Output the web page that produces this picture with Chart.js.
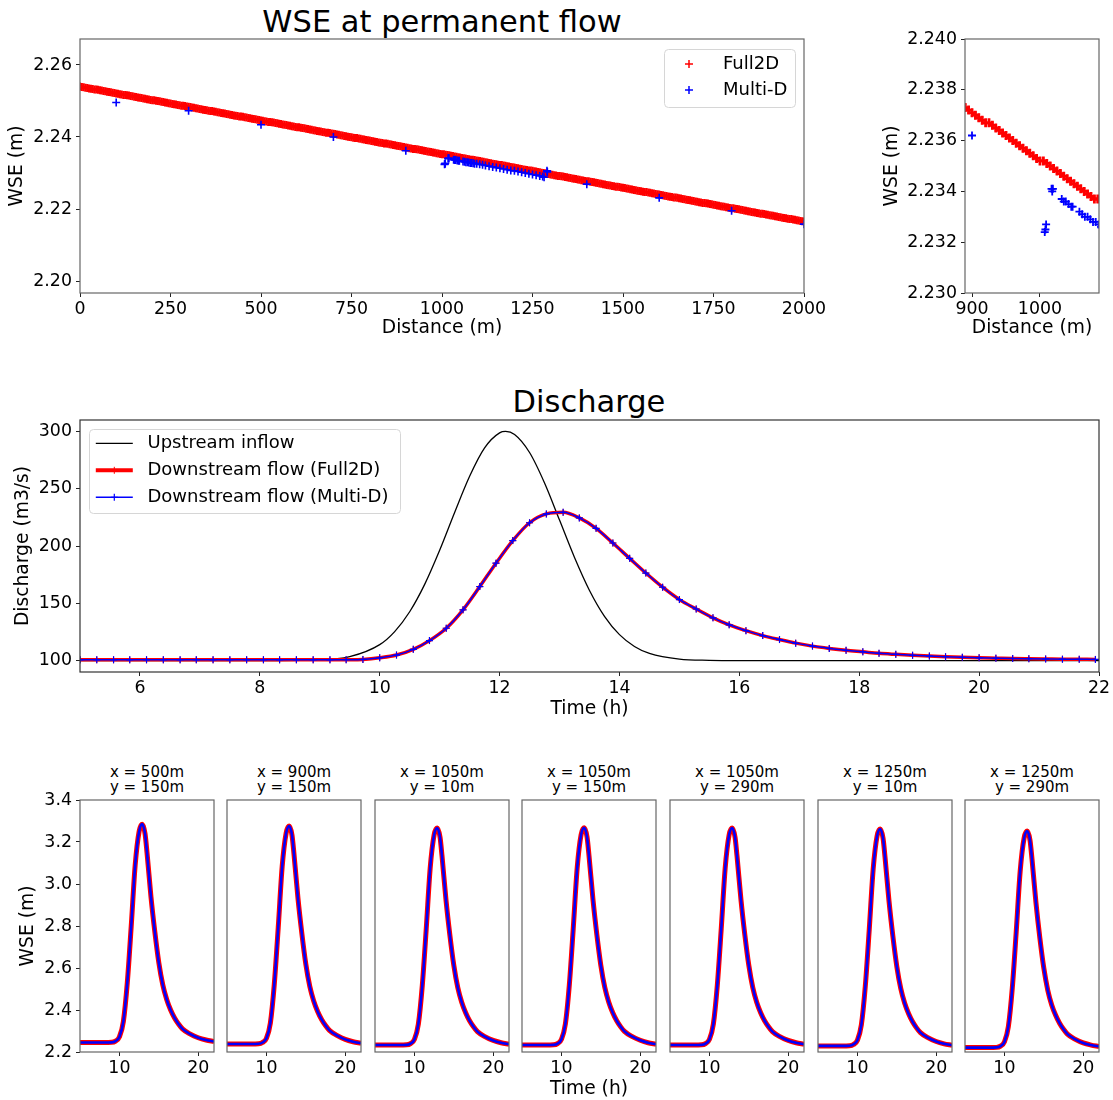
<!DOCTYPE html>
<html>
<head>
<meta charset="utf-8">
<script src="https://cdn.jsdelivr.net/npm/chart.js@4.4.0/dist/chart.umd.min.js"></script>
<style>
  html, body { margin: 0; padding: 0; background: #fff; }
  body { width: 1113px; height: 1100px; position: relative; overflow: hidden; font-family: "DejaVu Sans", sans-serif; }
  canvas { position: absolute; }
  .titulo { position: absolute; transform: translate(-50%, -50%); white-space: nowrap; color: #000; line-height: 1; font-size: 30.5px; }
  .sub { position: absolute; transform: translateX(-50%); text-align: center; font-size: 15px; line-height: 15.6px; white-space: nowrap; color: #000; }
</style>
</head>
<body>
<div class="titulo" style="left:442px; top:22px;">WSE at permanent flow</div>
<div class="titulo" style="left:589px; top:402px;">Discharge</div>

<script>
// ---------------- DADOS ----------------

// perfil de WSE em regime permanente (Full2D, bem denso)
var distFull2D = [
  0, 5, 10, 15, 20, 25, 30, 35, 40, 45, 50, 55, 60, 65, 70, 75,
  80, 85, 90, 95, 100, 105, 110, 115, 120, 125, 130, 135, 140, 145, 150, 155,
  160, 165, 170, 175, 180, 185, 190, 195, 200, 205, 210, 215, 220, 225, 230, 235,
  240, 245, 250, 255, 260, 265, 270, 275, 280, 285, 290, 295, 300, 305, 310, 315,
  320, 325, 330, 335, 340, 345, 350, 355, 360, 365, 370, 375, 380, 385, 390, 395,
  400, 405, 410, 415, 420, 425, 430, 435, 440, 445, 450, 455, 460, 465, 470, 475,
  480, 485, 490, 495, 500, 505, 510, 515, 520, 525, 530, 535, 540, 545, 550, 555,
  560, 565, 570, 575, 580, 585, 590, 595, 600, 605, 610, 615, 620, 625, 630, 635,
  640, 645, 650, 655, 660, 665, 670, 675, 680, 685, 690, 695, 700, 705, 710, 715,
  720, 725, 730, 735, 740, 745, 750, 755, 760, 765, 770, 775, 780, 785, 790, 795,
  800, 805, 810, 815, 820, 825, 830, 835, 840, 845, 850, 855, 860, 865, 870, 875,
  880, 885, 890, 895, 900, 905, 910, 915, 920, 925, 930, 935, 940, 945, 950, 955,
  960, 965, 970, 975, 980, 985, 990, 995, 1000, 1005, 1010, 1015, 1020, 1025, 1030, 1035,
  1040, 1045, 1050, 1055, 1060, 1065, 1070, 1075, 1080, 1085, 1090, 1095, 1100, 1105, 1110, 1115,
  1120, 1125, 1130, 1135, 1140, 1145, 1150, 1155, 1160, 1165, 1170, 1175, 1180, 1185, 1190, 1195,
  1200, 1205, 1210, 1215, 1220, 1225, 1230, 1235, 1240, 1245, 1250, 1255, 1260, 1265, 1270, 1275,
  1280, 1285, 1290, 1295, 1300, 1305, 1310, 1315, 1320, 1325, 1330, 1335, 1340, 1345, 1350, 1355,
  1360, 1365, 1370, 1375, 1380, 1385, 1390, 1395, 1400, 1405, 1410, 1415, 1420, 1425, 1430, 1435,
  1440, 1445, 1450, 1455, 1460, 1465, 1470, 1475, 1480, 1485, 1490, 1495, 1500, 1505, 1510, 1515,
  1520, 1525, 1530, 1535, 1540, 1545, 1550, 1555, 1560, 1565, 1570, 1575, 1580, 1585, 1590, 1595,
  1600, 1605, 1610, 1615, 1620, 1625, 1630, 1635, 1640, 1645, 1650, 1655, 1660, 1665, 1670, 1675,
  1680, 1685, 1690, 1695, 1700, 1705, 1710, 1715, 1720, 1725, 1730, 1735, 1740, 1745, 1750, 1755,
  1760, 1765, 1770, 1775, 1780, 1785, 1790, 1795, 1800, 1805, 1810, 1815, 1820, 1825, 1830, 1835,
  1840, 1845, 1850, 1855, 1860, 1865, 1870, 1875, 1880, 1885, 1890, 1895, 1900, 1905, 1910, 1915,
  1920, 1925, 1930, 1935, 1940, 1945, 1950, 1955, 1960, 1965, 1970, 1975, 1980, 1985, 1990, 1995,
  2000
];
var wseFull2D = [
  2.2540, 2.2539, 2.2538, 2.2537, 2.2536, 2.2535, 2.2534, 2.2533, 2.2532, 2.2532, 2.2531, 2.2530, 2.2529, 2.2528, 2.2527, 2.2526,
  2.2525, 2.2524, 2.2523, 2.2522, 2.2521, 2.2520, 2.2519, 2.2518, 2.2517, 2.2517, 2.2516, 2.2515, 2.2514, 2.2513, 2.2512, 2.2511,
  2.2510, 2.2509, 2.2508, 2.2507, 2.2506, 2.2505, 2.2504, 2.2503, 2.2502, 2.2502, 2.2501, 2.2500, 2.2499, 2.2498, 2.2497, 2.2496,
  2.2495, 2.2494, 2.2493, 2.2492, 2.2491, 2.2490, 2.2489, 2.2488, 2.2487, 2.2487, 2.2486, 2.2485, 2.2484, 2.2483, 2.2482, 2.2481,
  2.2480, 2.2479, 2.2478, 2.2477, 2.2476, 2.2475, 2.2474, 2.2473, 2.2472, 2.2472, 2.2471, 2.2470, 2.2469, 2.2468, 2.2467, 2.2466,
  2.2465, 2.2464, 2.2463, 2.2462, 2.2461, 2.2460, 2.2459, 2.2458, 2.2457, 2.2457, 2.2456, 2.2455, 2.2454, 2.2453, 2.2452, 2.2451,
  2.2450, 2.2449, 2.2448, 2.2447, 2.2446, 2.2445, 2.2444, 2.2443, 2.2442, 2.2442, 2.2441, 2.2440, 2.2439, 2.2438, 2.2437, 2.2436,
  2.2435, 2.2434, 2.2433, 2.2432, 2.2431, 2.2430, 2.2429, 2.2428, 2.2427, 2.2427, 2.2426, 2.2425, 2.2424, 2.2423, 2.2422, 2.2421,
  2.2420, 2.2419, 2.2418, 2.2417, 2.2416, 2.2415, 2.2414, 2.2413, 2.2412, 2.2412, 2.2411, 2.2410, 2.2409, 2.2408, 2.2407, 2.2406,
  2.2405, 2.2404, 2.2403, 2.2402, 2.2401, 2.2400, 2.2399, 2.2398, 2.2397, 2.2397, 2.2396, 2.2395, 2.2394, 2.2393, 2.2392, 2.2391,
  2.2390, 2.2389, 2.2388, 2.2387, 2.2386, 2.2385, 2.2384, 2.2383, 2.2382, 2.2382, 2.2381, 2.2380, 2.2379, 2.2378, 2.2377, 2.2376,
  2.2375, 2.2374, 2.2373, 2.2372, 2.2371, 2.2370, 2.2369, 2.2368, 2.2367, 2.2367, 2.2366, 2.2365, 2.2364, 2.2363, 2.2362, 2.2361,
  2.2360, 2.2359, 2.2358, 2.2357, 2.2356, 2.2355, 2.2354, 2.2353, 2.2352, 2.2352, 2.2351, 2.2350, 2.2349, 2.2348, 2.2347, 2.2346,
  2.2345, 2.2344, 2.2343, 2.2342, 2.2341, 2.2340, 2.2339, 2.2338, 2.2337, 2.2337, 2.2336, 2.2335, 2.2334, 2.2333, 2.2332, 2.2331,
  2.2330, 2.2329, 2.2328, 2.2327, 2.2326, 2.2325, 2.2324, 2.2323, 2.2322, 2.2322, 2.2321, 2.2320, 2.2319, 2.2318, 2.2317, 2.2316,
  2.2315, 2.2314, 2.2313, 2.2312, 2.2311, 2.2310, 2.2309, 2.2308, 2.2307, 2.2307, 2.2306, 2.2305, 2.2304, 2.2303, 2.2302, 2.2301,
  2.2300, 2.2299, 2.2298, 2.2297, 2.2296, 2.2295, 2.2294, 2.2293, 2.2292, 2.2292, 2.2291, 2.2290, 2.2289, 2.2288, 2.2287, 2.2286,
  2.2285, 2.2284, 2.2283, 2.2282, 2.2281, 2.2280, 2.2279, 2.2278, 2.2277, 2.2277, 2.2276, 2.2275, 2.2274, 2.2273, 2.2272, 2.2271,
  2.2270, 2.2269, 2.2268, 2.2267, 2.2266, 2.2265, 2.2264, 2.2263, 2.2262, 2.2262, 2.2261, 2.2260, 2.2259, 2.2258, 2.2257, 2.2256,
  2.2255, 2.2254, 2.2253, 2.2252, 2.2251, 2.2250, 2.2249, 2.2248, 2.2247, 2.2247, 2.2246, 2.2245, 2.2244, 2.2243, 2.2242, 2.2241,
  2.2240, 2.2239, 2.2238, 2.2237, 2.2236, 2.2235, 2.2234, 2.2233, 2.2232, 2.2232, 2.2231, 2.2230, 2.2229, 2.2228, 2.2227, 2.2226,
  2.2225, 2.2224, 2.2223, 2.2222, 2.2221, 2.2220, 2.2219, 2.2218, 2.2217, 2.2217, 2.2216, 2.2215, 2.2214, 2.2213, 2.2212, 2.2211,
  2.2210, 2.2209, 2.2208, 2.2207, 2.2206, 2.2205, 2.2204, 2.2203, 2.2202, 2.2202, 2.2201, 2.2200, 2.2199, 2.2198, 2.2197, 2.2196,
  2.2195, 2.2194, 2.2193, 2.2192, 2.2191, 2.2190, 2.2189, 2.2188, 2.2187, 2.2187, 2.2186, 2.2185, 2.2184, 2.2183, 2.2182, 2.2181,
  2.2180, 2.2179, 2.2178, 2.2177, 2.2176, 2.2175, 2.2174, 2.2173, 2.2172, 2.2172, 2.2171, 2.2170, 2.2169, 2.2168, 2.2167, 2.2166,
  2.2165
];

// perfil Multi-D
var distMultiD = [100, 300, 500, 700, 900, 1007, 1008, 1009, 1017, 1018, 1019,
  1032, 1035, 1038, 1042, 1046, 1048, 1058, 1062, 1066, 1070, 1074, 1078, 1082, 1086, 1090,
  1096, 1104, 1112, 1120, 1130, 1140, 1150, 1160, 1170, 1180, 1190, 1200, 1210, 1220,
  1230, 1240, 1250, 1260, 1270, 1278, 1282, 1290, 1291, 1400, 1600, 1800, 2000];
var wseMultiD = [2.2496, 2.2473, 2.2434, 2.2400, 2.2362, 2.2324, 2.2325, 2.2327, 2.2341, 2.2340, 2.2341,
  2.2337, 2.2336, 2.2336, 2.2335, 2.2334, 2.2334, 2.2332, 2.2331, 2.2330, 2.2330, 2.2329, 2.2328, 2.2328, 2.2327, 2.2326,
  2.2326, 2.2324, 2.2323, 2.2321, 2.2319, 2.2317, 2.2315, 2.2313, 2.2311, 2.2309, 2.2307, 2.2306, 2.2304, 2.2302,
  2.2300, 2.2298, 2.2296, 2.2294, 2.2292, 2.2290, 2.2288, 2.2306, 2.2303, 2.2269, 2.2231, 2.2195, 2.2158];

// hidrograma de entrada (montante)
var tempoEntrada = [5, 8, 9, 9.5, 10, 10.25, 10.5, 10.75, 11, 11.25, 11.5, 11.75, 12, 12.1,
  12.25, 12.5, 12.75, 13, 13.25, 13.5, 13.75, 14, 14.25, 14.5, 15, 15.5, 16, 22];
var vazaoEntrada = [100, 100, 100.6, 103.4, 113.9, 125.3, 142.6, 166.5, 196.3, 229.3, 260.9, 285.7, 298.8, 300,
  297.3, 281.6, 255.0, 222.6, 190.0, 161.2, 138.6, 122.6, 112.3, 106.2, 101.2, 100.2, 100, 100];

// hidrograma de saida (jusante)
var tempoSaida = [5.00, 5.28, 5.56, 5.83, 6.11, 6.39, 6.67, 6.94, 7.22, 7.50, 7.78, 8.06, 8.33, 8.61, 8.89, 9.17,
  9.44, 9.72, 10.00, 10.28, 10.56, 10.83, 11.11, 11.39, 11.67, 11.94, 12.22, 12.50, 12.78, 13.06, 13.33, 13.61,
  13.89, 14.17, 14.44, 14.72, 15.00, 15.28, 15.56, 15.83, 16.11, 16.39, 16.67, 16.94, 17.22, 17.50, 17.78, 18.06,
  18.33, 18.61, 18.89, 19.17, 19.44, 19.72, 20.00, 20.28, 20.56, 20.83, 21.11, 21.39, 21.67, 21.94];
var vazaoFull2D = [100.6, 100.6, 100.6, 100.6, 100.6, 100.6, 100.6, 100.6, 100.6, 100.6, 100.6, 100.6, 100.6, 100.6, 100.6, 100.6,
  100.7, 101.0, 102.4, 104.8, 109.8, 117.4, 128.2, 144.3, 164.6, 185.0, 204.7, 220.3, 228.0, 229.4, 224.5, 215.4,
  202.6, 189.2, 176.4, 164.0, 153.2, 145.0, 137.3, 131.2, 126.1, 121.8, 118.3, 115.2, 112.6, 110.6, 108.9, 107.6,
  106.3, 105.4, 104.6, 103.9, 103.3, 102.8, 102.4, 102.1, 101.8, 101.6, 101.4, 101.2, 101.1, 101.0];
var vazaoMultiD = vazaoFull2D.slice(); // as duas curvas coincidem na escala do grafico

// WSE no tempo em 7 pontos
var pontosX = ['500', '900', '1050', '1050', '1050', '1250', '1250'];
var pontosY = ['150', '150', '10', '150', '290', '10', '290'];
var tempoPontos = [5, 8, 9, 9.5, 10, 10.5, 11, 11.5, 12, 12.5, 12.9, 13.25, 13.5, 14, 14.5, 15, 15.5, 16, 16.5, 17, 17.5, 18, 19, 20, 21, 22];
var wsePonto1 = [2.245, 2.245, 2.246, 2.252, 2.272, 2.345, 2.530, 2.800, 3.090, 3.250, 3.285, 3.240, 3.150, 2.940, 2.770, 2.625, 2.520, 2.450, 2.400, 2.362, 2.333, 2.310, 2.285, 2.268, 2.257, 2.250];
var wsePonto2 = [2.238, 2.238, 2.239, 2.245, 2.265, 2.338, 2.523, 2.793, 3.083, 3.242, 3.276, 3.232, 3.142, 2.933, 2.763, 2.618, 2.513, 2.443, 2.393, 2.355, 2.326, 2.303, 2.278, 2.260, 2.249, 2.242];
var wsePonto3 = [2.233, 2.233, 2.234, 2.240, 2.260, 2.333, 2.517, 2.786, 3.075, 3.234, 3.267, 3.223, 3.134, 2.926, 2.756, 2.612, 2.507, 2.437, 2.387, 2.349, 2.320, 2.297, 2.272, 2.255, 2.244, 2.237];
var wsePonto4 = [2.233, 2.233, 2.234, 2.240, 2.260, 2.333, 2.518, 2.787, 3.076, 3.235, 3.268, 3.224, 3.135, 2.927, 2.757, 2.613, 2.508, 2.438, 2.388, 2.350, 2.321, 2.298, 2.273, 2.256, 2.244, 2.237];
var wsePonto5 = [2.233, 2.233, 2.234, 2.240, 2.260, 2.333, 2.517, 2.786, 3.075, 3.234, 3.267, 3.223, 3.134, 2.926, 2.756, 2.612, 2.507, 2.437, 2.387, 2.349, 2.320, 2.297, 2.272, 2.255, 2.244, 2.237];
var wsePonto6 = [2.229, 2.229, 2.230, 2.236, 2.256, 2.329, 2.513, 2.782, 3.071, 3.229, 3.262, 3.218, 3.129, 2.921, 2.751, 2.607, 2.502, 2.432, 2.382, 2.344, 2.315, 2.292, 2.267, 2.250, 2.239, 2.232];
var wsePonto7 = [2.221, 2.221, 2.222, 2.228, 2.248, 2.321, 2.505, 2.773, 3.061, 3.219, 3.252, 3.208, 3.119, 2.912, 2.742, 2.599, 2.494, 2.424, 2.375, 2.337, 2.308, 2.285, 2.260, 2.243, 2.233, 2.226];
var wsePontos = [wsePonto1, wsePonto2, wsePonto3, wsePonto4, wsePonto5, wsePonto6, wsePonto7];

// ticks
var perfilTicksX = [0, 250, 500, 750, 1000, 1250, 1500, 1750, 2000];
var perfilTicksY = [2.20, 2.22, 2.24, 2.26];
var zoomTicksX = [900, 1000];
var zoomTicksY = [2.230, 2.232, 2.234, 2.236, 2.238, 2.240];
var vazaoTicksX = [6, 8, 10, 12, 14, 16, 18, 20, 22];
var vazaoTicksY = [100, 150, 200, 250, 300];
var pontoTicksX = [10, 20];
var pontoTicksY = [2.2, 2.4, 2.6, 2.8, 3.0, 3.2, 3.4];

// ---------------- GRAFICOS ----------------

Chart.defaults.font.family = '"DejaVu Sans", sans-serif';
Chart.defaults.font.size = 17;
Chart.defaults.color = '#000';

var TAM_TICK = 17.4;
var TAM_TITULO = 18.7;

function pares(xs, ys) {
  return xs.map(function (x, i) { return { x: x, y: ys[i] }; });
}

// moldura em volta da area do grafico
var moldura = {
  id: 'moldura',
  afterDatasetsDraw: function (chart, args, o) {
    var a = chart.chartArea, ctx = chart.ctx;
    ctx.save();
    ctx.strokeStyle = (o && o.cor) || '#555';
    ctx.lineWidth = 1.2;
    ctx.strokeRect(a.left, a.top, a.right - a.left, a.bottom - a.top);
    ctx.restore();
  }
};

function caminhoArredondado(ctx, x, y, w, h, r) {
  ctx.beginPath();
  ctx.moveTo(x + r, y);
  ctx.lineTo(x + w - r, y);
  ctx.arcTo(x + w, y, x + w, y + r, r);
  ctx.lineTo(x + w, y + h - r);
  ctx.arcTo(x + w, y + h, x + w - r, y + h, r);
  ctx.lineTo(x + r, y + h);
  ctx.arcTo(x, y + h, x, y + h - r, r);
  ctx.lineTo(x, y + r);
  ctx.arcTo(x, y, x + r, y, r);
  ctx.closePath();
}

// legenda desenhada dentro da area (estilo matplotlib)
var legendaInterna = {
  id: 'legendaInterna',
  afterDraw: function (chart, args, o) {
    if (!o || !o.itens) return;
    var ctx = chart.ctx, a = chart.chartArea;
    var x = a.left + o.x, y = a.top + o.y;
    ctx.save();
    caminhoArredondado(ctx, x + 0.5, y + 0.5, o.w, o.h, 4);
    ctx.fillStyle = 'rgba(255,255,255,0.85)';
    ctx.fill();
    ctx.strokeStyle = '#d6d6d6';
    ctx.lineWidth = 1;
    ctx.stroke();
    ctx.font = '18px "DejaVu Sans", sans-serif';
    ctx.textBaseline = 'middle';
    ctx.textAlign = 'left';
    for (var i = 0; i < o.itens.length; i++) {
      var it = o.itens[i];
      var cy = y + o.linha0 + i * o.passo;
      var sx = x + o.simbolo;
      ctx.strokeStyle = it.cor;
      if (it.linha) {
        ctx.lineWidth = it.linha;
        ctx.beginPath();
        ctx.moveTo(sx - o.larg / 2, cy);
        ctx.lineTo(sx + o.larg / 2, cy);
        ctx.stroke();
      }
      if (it.cruz) {
        ctx.lineWidth = it.espessura;
        ctx.beginPath();
        ctx.moveTo(sx - it.cruz, cy); ctx.lineTo(sx + it.cruz, cy);
        ctx.moveTo(sx, cy - it.cruz); ctx.lineTo(sx, cy + it.cruz);
        ctx.stroke();
      }
      ctx.fillStyle = '#000';
      ctx.fillText(it.texto, x + o.texto, cy);
    }
    ctx.restore();
  }
};

function eixo(cfg) {
  var mostrar = cfg.mostrar !== false;
  return {
    type: 'linear',
    min: cfg.min,
    max: cfg.max,
    afterBuildTicks: function (s) {
      s.ticks = cfg.ticks.map(function (v) { return { value: v }; });
    },
    afterFit: function (s) {
      if (cfg.lado === 'y') s.width = cfg.tamanho; else s.height = cfg.tamanho;
    },
    ticks: {
      display: mostrar, autoSkip: false, maxRotation: 0, minRotation: 0,
      padding: cfg.padTick, color: '#000', font: { size: TAM_TICK },
      callback: function (v) { return Number(v).toFixed(cfg.casas); }
    },
    grid: { display: mostrar, drawOnChartArea: false, drawTicks: true, tickLength: 4, tickColor: '#222', tickWidth: 1 },
    border: { display: false },
    title: { display: !!cfg.titulo, text: cfg.titulo || '', color: '#000', font: { size: TAM_TITULO }, padding: cfg.padTitulo || 0 }
  };
}

function criarGrafico(id, caixa, area, datasets, cx, cy, legenda, corMoldura) {
  var canvas = document.createElement('canvas');
  canvas.id = id;
  canvas.width = caixa.r - caixa.l;
  canvas.height = caixa.b - caixa.t;
  canvas.style.left = caixa.l + 'px';
  canvas.style.top = caixa.t + 'px';
  document.body.appendChild(canvas);
  cx.lado = 'x'; cx.tamanho = caixa.b - area.b;
  cy.lado = 'y'; cy.tamanho = area.l - caixa.l;
  return new Chart(canvas, {
    type: 'scatter',
    data: { datasets: datasets },
    options: {
      responsive: false,
      animation: false,
      devicePixelRatio: 1,
      events: [],
      layout: { padding: { left: 0, bottom: 0, top: area.t - caixa.t, right: caixa.r - area.r } },
      scales: { x: eixo(cx), y: eixo(cy) },
      plugins: {
        legend: { display: false },
        tooltip: { enabled: false },
        moldura: { cor: corMoldura || '#555' },
        legendaInterna: legenda || {}
      }
    },
    plugins: [moldura, legendaInterna]
  });
}

function serieCruz(xs, ys, cor, ordem, raio, espessura) {
  return {
    data: pares(xs, ys), order: ordem, clip: 0,
    pointStyle: 'cross', pointRadius: raio, pointBorderWidth: espessura,
    pointBorderColor: cor, pointBackgroundColor: cor, borderColor: cor
  };
}

var legendaPerfil = {
  x: 584, y: 10, w: 131, h: 58, linha0: 15, passo: 26, simbolo: 25, larg: 0, texto: 59,
  itens: [
    { texto: 'Full2D', cor: '#ff0000', cruz: 4, espessura: 1.5 },
    { texto: 'Multi-D', cor: '#0000ff', cruz: 4, espessura: 1.5 }
  ]
};

// Grafico 1: perfil completo
criarGrafico('graficoPerfil',
  { l: 0, t: 10, r: 840, b: 350 }, { l: 80, t: 39, r: 804, b: 293 },
  [serieCruz(distFull2D, wseFull2D, '#ff0000', 1, 4, 2.2), serieCruz(distMultiD, wseMultiD, '#0000ff', 0, 4, 1.6)],
  { min: 0, max: 2000, ticks: perfilTicksX, casas: 0, padTick: 2, titulo: 'Distance (m)', padTitulo: { top: 0, bottom: 10.5 } },
  { min: 2.19667, max: 2.26722, ticks: perfilTicksY, casas: 2, padTick: 4, titulo: 'WSE (m)', padTitulo: { top: 6.3, bottom: 0 } },
  legendaPerfil, '#666');

// Grafico 2: zoom entre 900 e 1087 m
criarGrafico('graficoZoom',
  { l: 850, t: 10, r: 1113, b: 350 }, { l: 965, t: 39, r: 1099, b: 293 },
  [serieCruz(distFull2D, wseFull2D, '#ff0000', 1, 4.5, 2.8), serieCruz(distMultiD, wseMultiD, '#0000ff', 0, 4, 1.8)],
  { min: 889.7, max: 1086.8, ticks: zoomTicksX, casas: 0, padTick: 2, titulo: 'Distance (m)', padTitulo: { top: 0, bottom: 10.5 } },
  { min: 2.230, max: 2.240, ticks: zoomTicksY, casas: 3, padTick: 4, titulo: 'WSE (m)', padTitulo: { top: 30.8, bottom: 0 } },
  null, '#666');

// Grafico 3: vazao
var legendaVazao = {
  x: 9, y: 9, w: 311, h: 84, linha0: 14.3, passo: 27, simbolo: 25.3, larg: 37, texto: 58.5,
  itens: [
    { texto: 'Upstream inflow', cor: '#000000', linha: 1.3 },
    { texto: 'Downstream flow (Full2D)', cor: '#ff0000', linha: 4, cruz: 3.5, espessura: 1 },
    { texto: 'Downstream flow (Multi-D)', cor: '#0000ff', linha: 1.5, cruz: 3.5, espessura: 1.2 }
  ]
};
criarGrafico('graficoVazao',
  { l: 0, t: 380, r: 1113, b: 724 }, { l: 80, t: 420, r: 1099, b: 672 },
  [
    { data: pares(tempoEntrada, vazaoEntrada), showLine: true, order: 2, clip: 0, borderColor: '#000000', borderWidth: 1.3,
      pointRadius: 0, cubicInterpolationMode: 'monotone' },
    { data: pares(tempoSaida, vazaoFull2D), showLine: true, order: 1, clip: 0, borderColor: '#ff0000', borderWidth: 3.5,
      pointStyle: 'cross', pointRadius: 3.5, pointBorderWidth: 1, pointBorderColor: '#ff0000', cubicInterpolationMode: 'monotone' },
    { data: pares(tempoSaida, vazaoMultiD), showLine: true, order: 0, clip: 0, borderColor: '#0000ff', borderWidth: 1.5,
      pointStyle: 'cross', pointRadius: 3.5, pointBorderWidth: 1.2, pointBorderColor: '#0000ff', cubicInterpolationMode: 'monotone' }
  ],
  { min: 5, max: 22, ticks: vazaoTicksX, casas: 0, padTick: 2, titulo: 'Time (h)', padTitulo: { top: 0, bottom: 3.8 } },
  { min: 90, max: 310, ticks: vazaoTicksY, casas: 0, padTick: 4, titulo: 'Discharge (m3/s)', padTitulo: { top: 11.8, bottom: 0 } },
  legendaVazao, '#333');

// Graficos 4 a 10: WSE no tempo em cada ponto
var esquerdas = [80, 227, 375, 522, 670, 818, 965];
var direitas = [214, 361, 509, 656, 804, 952, 1099];

for (var i = 0; i < 7; i++) {
  var l = esquerdas[i], r = direitas[i];
  var sub = document.createElement('div');
  sub.className = 'sub';
  sub.style.left = ((l + r) / 2) + 'px';
  sub.style.top = '764.9px';
  sub.innerHTML = 'x = ' + pontosX[i] + 'm<br>y = ' + pontosY[i] + 'm';
  document.body.appendChild(sub);

  var caixa = { l: i === 0 ? 0 : l - 12, t: 770, r: i === 6 ? 1113 : r + 8, b: 1100 };
  criarGrafico('graficoPonto' + (i + 1), caixa, { l: l, t: 800, r: r, b: 1052 },
    [
      { data: pares(tempoPontos, wsePontos[i]), showLine: true, order: 1, clip: 0, borderColor: '#ff0000', borderWidth: 5,
        pointRadius: 0, cubicInterpolationMode: 'monotone' },
      { data: pares(tempoPontos, wsePontos[i]), showLine: true, order: 0, clip: 0, borderColor: '#0000ff', borderWidth: 2.6,
        pointRadius: 0, cubicInterpolationMode: 'monotone' }
    ],
    { min: 5, max: 22, ticks: pontoTicksX, casas: 0, padTick: 2,
      titulo: i === 3 ? 'Time (h)' : '', padTitulo: { top: 0, bottom: 0 } },
    { min: 2.2, max: 3.4, ticks: i === 0 ? pontoTicksY : [], casas: 1, padTick: 4, mostrar: i === 0,
      titulo: i === 0 ? 'WSE (m)' : '', padTitulo: { top: 17.4, bottom: 0 } },
    null, '#666');
}
</script>
</body>
</html>
